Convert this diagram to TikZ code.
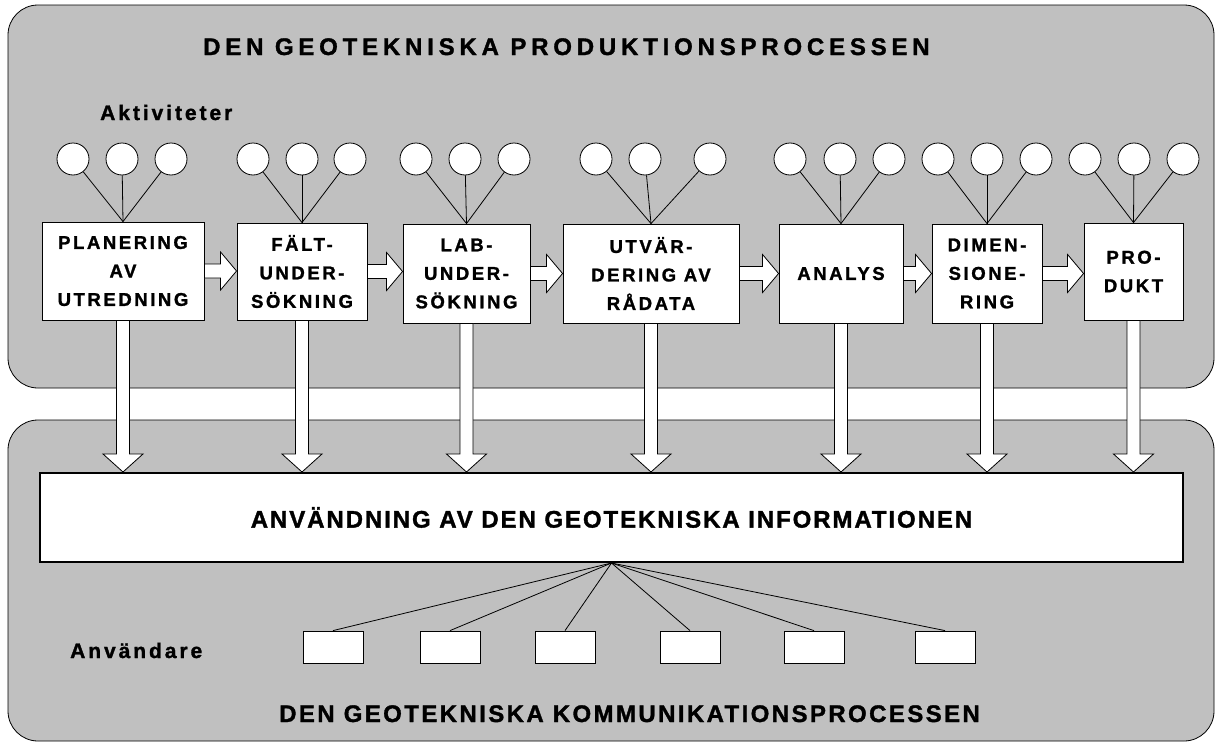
\documentclass[tikz,border=0pt]{standalone}
\usepackage{fontspec}
\setmainfont{Liberation Sans}
\newfontfamily\fTitle[LetterSpace=20, FakeBold=1.4]{Liberation Sans Bold}
\newfontfamily\fTitleB[LetterSpace=10, FakeBold=1.4]{Liberation Sans Bold}
\newfontfamily\fMainTxt[LetterSpace=8, FakeBold=1.4]{Liberation Sans Bold}
\newfontfamily\fBox[LetterSpace=14, FakeBold=1.4]{Liberation Sans Bold}
\newfontfamily\fLabel[LetterSpace=14, FakeBold=1.4]{Liberation Sans Bold}
\usetikzlibrary{calc}
\definecolor{panelgray}{RGB}{192,192,192}
\newcommand\harrow[2]{%
  \draw[barrow] let \p1=(#1.east), \p2=(#2.west) in
    (\x1,\y1+7pt) -- (\x2-16pt,\y1+7pt) -- (\x2-16pt,\y1+19pt) -- (\x2,\y1)
    -- (\x2-16pt,\y1-19pt) -- (\x2-16pt,\y1-7pt) -- (\x1,\y1-7pt) -- cycle;}
\newcommand\varrow[2]{%
  \draw[barrow] let \p1=(#1.south), \p2=(#2.north) in
    (\x1-6.5pt,\y1) -- (\x1-6.5pt,\y2+18pt) -- (\x1-20pt,\y2+18pt) -- (\x1,\y2)
    -- (\x1+20pt,\y2+18pt) -- (\x1+6.5pt,\y2+18pt) -- (\x1+6.5pt,\y1) -- cycle;}
\begin{document}
\begin{tikzpicture}[x=1pt,y=-1pt,
  panel/.style={draw=black, line width=0.8pt, fill=panelgray, rounded corners=30pt},
  act/.style={circle, draw, fill=white, line width=0.8pt, minimum size=32pt, inner sep=0pt},
  pbox/.style={draw, fill=white, line width=0.9pt, align=center, inner sep=0pt,
    font=\fBox\fontsize{18.5}{28.5}\selectfont},
  barrow/.style={draw, fill=white, line width=0.8pt, line join=miter},
  ubox/.style={draw, fill=white, line width=0.8pt, minimum width=60pt, minimum height=32pt, inner sep=0pt},
  link/.style={line width=0.8pt},
  ttl/.style={anchor=base west, inner sep=0pt},
  lbl/.style={anchor=base west, inner sep=0pt, font=\fLabel\fontsize{21}{25}\selectfont}
]
\useasboundingbox (0,0) rectangle (1216,744);
\fill[white] (0,0) rectangle (1216,744);
% panels
\draw[panel] (8,5) rectangle (1214,388);
\draw[panel] (8,420) rectangle (1214,741);
% process boxes
\node[pbox, minimum width=162pt, minimum height=98pt] (P) at (123,271) {PLANERING\\AV\\UTREDNING};
\node[pbox, minimum width=130pt, minimum height=97pt] (F) at (302,271.5) {FÄLT-\\UNDER-\\SÖKNING};
\node[pbox, minimum width=127pt, minimum height=99pt] (L) at (466.5,273.5) {LAB-\\UNDER-\\SÖKNING};
\node[pbox, minimum width=176pt, minimum height=99pt] (U) at (651,273.5) {UTVÄR-\\DERING AV\\RÅDATA};
\node[pbox, minimum width=124pt, minimum height=99pt] (A) at (841,273.5) {ANALYS};
\node[pbox, minimum width=110pt, minimum height=99pt] (D) at (987,273.5) {DIMEN-\\SIONE-\\RING};
\node[pbox, minimum width=99pt, minimum height=97pt] (R) at (1133.5,271.5) {PRO-\\DUKT};
% activity circles
\foreach \b/\xa/\xb/\xc in {P/73/122/171, F/253/302/350, L/416/465/514, U/596/645/710,
    A/790/840/889, D/938/987/1036, R/1085/1134/1183} {
  \node[act] (\b1) at (\xa,159) {};
  \node[act] (\b2) at (\xb,159) {};
  \node[act] (\b3) at (\xc,159) {};
  \draw[link] (\b1) -- (\b.north);
  \draw[link] (\b2) -- (\b.north);
  \draw[link] (\b3) -- (\b.north);
}
% horizontal block arrows
\harrow{P}{F}
\harrow{F}{L}
\harrow{L}{U}
\harrow{U}{A}
\harrow{A}{D}
\harrow{D}{R}
% main box
\node[draw, fill=white, line width=2pt, minimum width=1143pt, minimum height=89pt, inner sep=0pt,
  font=\fMainTxt\fontsize{24}{28}\selectfont] (M) at (611.5,517.5)
  {ANVÄNDNING AV DEN GEOTEKNISKA INFORMATIONEN};
% vertical block arrows
\foreach \b in {P,F,L,U,A,D,R} { \varrow{\b}{M} }
% users
\foreach \i/\x in {1/333, 2/450, 3/565, 4/690, 5/814, 6/945} {
  \node[ubox] (u\i) at (\x,647) {};
  \draw[link] (M.south) -- (u\i.north);
}
% labels
\node[ttl, font=\fTitle\fontsize{24}{28}\selectfont] (t1) at (203,55) {DEN GEOTEKNISKA PRODUKTIONSPROCESSEN};
\node[ttl, font=\fTitleB\fontsize{24}{28}\selectfont] (t2) at (279,722) {DEN GEOTEKNISKA KOMMUNIKATIONSPROCESSEN};
\node[lbl] (akt) at (100,120) {Aktiviteter};
\node[lbl] (anv) at (70,658) {Användare};
\end{tikzpicture}
\end{document}
